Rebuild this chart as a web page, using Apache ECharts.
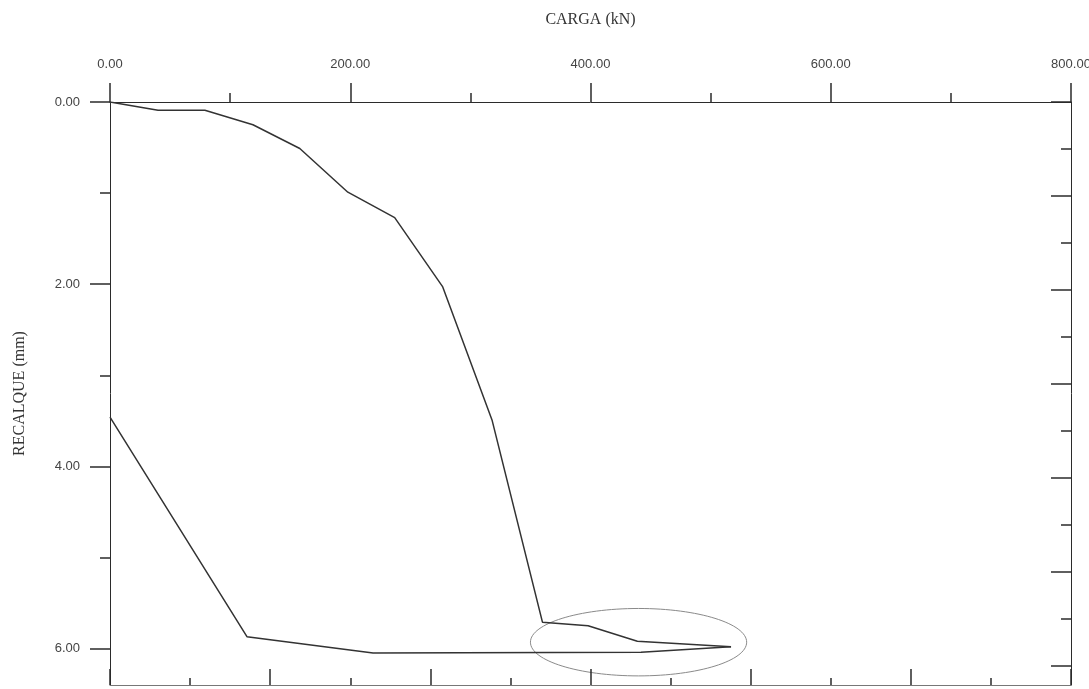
<!DOCTYPE html>
<html>
<head>
<meta charset="utf-8">
<title>CARGA x RECALQUE</title>
<script src="https://cdn.jsdelivr.net/npm/echarts@6/dist/echarts.min.js"></script>
<style>
html,body{margin:0;padding:0;background:#fff;}
#tu_1{width:1089px;height:689px;}
</style>
</head>
<body>
<div id="tu_1"></div>
<script>
// carregamento (load) - kN / mm
var cargaX=[0,40,79,119,158,198,237,277,318,360,398,439,517];
var recalqueY=[0,0.09,0.09,0.25,0.51,0.99,1.27,2.03,3.49,5.71,5.75,5.92,5.98];
// descarregamento (unload)
var descargaX=[517,442,219,114,0];
var descargaY=[5.98,6.04,6.05,5.87,3.46];
// tick labels
var xTicks=[0,200,400,600,800];
var yTicks=[0,2,4,6];

var myChart_1;
window.onresize=function(){
	if(myChart_1){myChart_1.resize();}
};

function pares(xs,ys){
	var d=[];
	for(var i=0;i<xs.length;i++){d.push([xs[i],ys[i]]);}
	return d;
}

function a1(){
	myChart_1=echarts.init(document.getElementById('tu_1'));
	var corLinha='#2b2b2b';
	var lbl={color:'#444',fontFamily:'Liberation Sans',fontSize:13};
	var option={
		animation:false,
		backgroundColor:'#fff',
		grid:{left:110,right:18,top:102,bottom:4,containLabel:false,outerBoundsMode:'none'},
		xAxis:[{
			type:'value',position:'top',min:0,max:800,interval:200,
			name:'CARGA (kN)',nameLocation:'middle',nameGap:74,
			nameTextStyle:{color:'#333',fontFamily:'Liberation Serif',fontSize:16},
			axisLine:{show:true,onZero:false,lineStyle:{color:corLinha,width:1}},
			axisTick:{show:true,inside:false,length:19,lineStyle:{color:corLinha,width:1.5},customValues:xTicks},
			minorTick:{show:true,splitNumber:2,length:9,lineStyle:{color:corLinha,width:1.5}},
			axisLabel:Object.assign({margin:31,customValues:xTicks,formatter:function(v){return v.toFixed(2);}},lbl),
			splitLine:{show:false}
		},{
			type:'value',position:'bottom',min:0,max:12,interval:2,
			axisLine:{show:true,onZero:false,lineStyle:{color:'#777',width:1}},
			axisTick:{show:true,inside:true,length:16,lineStyle:{color:corLinha,width:1.5}},
			minorTick:{show:true,splitNumber:2,length:7,lineStyle:{color:corLinha,width:1.5}},
			axisLabel:{show:false},
			splitLine:{show:false}
		}],
		yAxis:[{
			type:'value',position:'left',inverse:true,min:0,max:6.4,interval:2,
			name:'RECALQUE (mm)',nameLocation:'middle',nameRotate:90,nameGap:82,
			nameTextStyle:{color:'#333',fontFamily:'Liberation Serif',fontSize:16},
			axisLine:{show:true,onZero:false,lineStyle:{color:corLinha,width:1}},
			axisTick:{show:true,inside:false,length:20,lineStyle:{color:corLinha,width:1.5},customValues:yTicks},
			minorTick:{show:true,splitNumber:2,length:10,lineStyle:{color:corLinha,width:1.5}},
			axisLabel:Object.assign({margin:30,customValues:yTicks,formatter:function(v){return v.toFixed(2);}},lbl),
			splitLine:{show:false}
		},{
			type:'value',position:'right',inverse:true,min:0,max:12.4,interval:2,
			axisLine:{show:true,onZero:false,lineStyle:{color:corLinha,width:1}},
			axisTick:{show:true,inside:true,length:20,lineStyle:{color:corLinha,width:1.5},customValues:[0,2,4,6,8,10,12]},
			minorTick:{show:true,splitNumber:2,length:10,lineStyle:{color:corLinha,width:1.5}},
			axisLabel:{show:false},
			splitLine:{show:false}
		}],
		series:[{
			name:'carga',type:'line',xAxisIndex:0,yAxisIndex:0,
			symbol:'none',lineStyle:{color:'#333',width:1.5},
			data:pares(cargaX,recalqueY)
		},{
			name:'descarga',type:'line',xAxisIndex:0,yAxisIndex:0,
			symbol:'none',lineStyle:{color:'#333',width:1.5},
			data:pares(descargaX,descargaY)
		}]
	};
	myChart_1.setOption(option);

	// elipse em volta do trecho final
	var c=myChart_1.convertToPixel({xAxisIndex:0,yAxisIndex:0},[440,5.93]);
	var e=myChart_1.convertToPixel({xAxisIndex:0,yAxisIndex:0},[530,6.3]);
	myChart_1.setOption({
		graphic:[{
			type:'ellipse',silent:true,
			shape:{cx:c[0],cy:c[1],rx:e[0]-c[0],ry:e[1]-c[1]},
			style:{fill:'none',stroke:'#8a8a8a',lineWidth:1}
		}]
	});
}
a1();
</script>
</body>
</html>
